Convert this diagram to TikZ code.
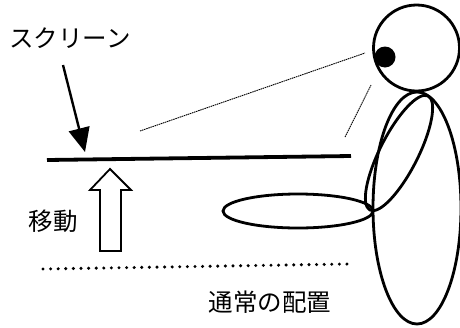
\documentclass[tikz,border=0pt]{standalone}
\usepackage{fontspec}
\newfontfamily\jp{Noto Sans CJK JP}
\usetikzlibrary{arrows.meta}
\begin{document}
\begin{tikzpicture}[x=1pt,y=1pt,
  outline/.style={line width=2.8pt},
  caption/.style={font=\jp\fontsize{24.5}{28}\selectfont, inner sep=0pt},
  sight/.style={line width=0.9pt, dash pattern=on 1.5pt off 0.7pt},
]
\useasboundingbox (0,0) rectangle (460,-327);
\fill[white] (0,0) rectangle (460,-327);

% labels
\node[caption] (scr) at (70,-38) {スクリーン};
\node[caption] (move) at (53,-221) {移動};
\node[caption] (usual) at (270,-302) {通常の配置};

% screen and pointer arrow
\coordinate (sL) at (47,-160);
\coordinate (sR) at (351,-156);
\draw[line width=3.8pt] (sL) -- (sR);
\coordinate (pointer) at (63,-65);
\coordinate (tip) at (85,-152);
\draw[line width=2.4pt, -{Triangle[length=24pt,width=21pt]}] (pointer) -- (tip);

% hollow block arrow (movement)
\draw[line width=1.8pt, line join=miter]
  (100,-251) -- (121,-251) -- (121,-190) -- (131,-190) -- (110,-169)
  -- (90,-190) -- (100,-190) -- cycle;

% usual position of the screen
\coordinate (uL) at (43,-269);
\coordinate (uR) at (348,-264);
\draw[line width=3.4pt, line cap=round, dash pattern=on 0pt off 7.6pt] (uL) -- (uR);

% lines of sight
\coordinate (v1a) at (140,-131);
\coordinate (v1b) at (365,-53);
\coordinate (v2a) at (345,-137);
\coordinate (v2b) at (371,-85);
\draw[sight] (v1a) -- (v1b);
\draw[sight] (v2a) -- (v2b);

% figure
\draw[outline] (416.5,-48) circle (43);
\fill (385,-57) circle (10.5);
\draw[outline] (417,-208) ellipse [x radius=44, y radius=116];
\draw[outline, rotate around={63:(399,-153)}] (399,-153) ellipse [x radius=64, y radius=19];
\draw[outline] (298,-211) ellipse [x radius=75, y radius=17];
\end{tikzpicture}
\end{document}
